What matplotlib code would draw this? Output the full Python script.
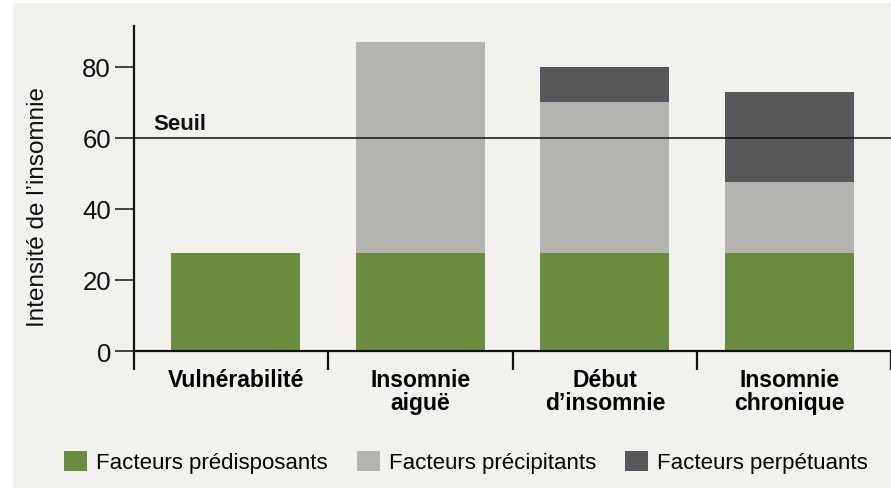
import matplotlib
matplotlib.use("Agg")
import matplotlib.pyplot as plt
from matplotlib.patches import Rectangle, Patch
from matplotlib.ticker import FixedLocator
from matplotlib.transforms import blended_transform_factory

# Stages of insomnia and the contribution of each factor type
stages = ["Vulnérabilité", "Insomnie\naiguë", "Début\nd’insomnie", "Insomnie\nchronique"]
predisposing = [27.5, 27.5, 27.5, 27.5]
precipitating = [0, 59.5, 42.5, 20]
perpetuating = [0, 0, 10, 25.5]
threshold = 60
series_names = ["Facteurs prédisposants", "Facteurs précipitants", "Facteurs perpétuants"]
yticks = [0, 20, 40, 60, 80]

GREEN = "#6b8c3f"
LIGHT = "#b3b4af"
DARK = "#58585b"
BG = "#f3f1ee"
INK = "#111111"

plt.rcParams["font.family"] = ["Liberation Sans", "DejaVu Sans"]

W, H = 891, 489
fig = plt.figure(figsize=(W / 100, H / 100), dpi=100)
fig.patch.set_facecolor("white")
fig.add_artist(Rectangle((13 / W, 0), 1 - 13 / W, (H - 4) / H,
                         transform=fig.transFigure, facecolor=BG,
                         edgecolor="none", zorder=-10))

ax = fig.add_axes([134 / W, (H - 352) / H, (W - 134) / W, (352 - 27) / H])
ax.set_facecolor("none")

x = list(range(len(stages)))
bottom2 = [a + b for a, b in zip(predisposing, precipitating)]
bw = 0.70
ax.bar(x, predisposing, width=bw, color=GREEN, zorder=2)
ax.bar(x, precipitating, width=bw, bottom=predisposing, color=LIGHT, zorder=2)
ax.bar(x, perpetuating, width=bw, bottom=bottom2, color=DARK, zorder=2)

# Threshold line and its label
ax.axhline(threshold, color=INK, lw=1.1, zorder=3)
ax.text((153 - 134) / (W - 134), threshold + 1.2, "Seuil",
        transform=blended_transform_factory(ax.transAxes, ax.transData),
        fontsize=16, fontweight="semibold", va="bottom", ha="left", color=INK)

ax.set_xlim(-0.55, 3.55)
ax.set_ylim(0, 91.5)

for s in ["top", "right"]:
    ax.spines[s].set_visible(False)
for s in ["left", "bottom"]:
    ax.spines[s].set_linewidth(1.6)
    ax.spines[s].set_color(INK)

ax.set_yticks(yticks)
ax.tick_params(axis="y", direction="out", length=13.5, width=1.1,
               labelsize=18.5, pad=3, colors=INK)
ax.set_xticks(x)
ax.set_xticklabels(stages, fontweight="bold", fontsize=16.5, linespacing=1.0)
ax.tick_params(axis="x", which="major", length=0, pad=12)
ax.xaxis.set_minor_locator(FixedLocator([-0.55, 0.5, 1.5, 2.5, 3.55]))
ax.tick_params(axis="x", which="minor", direction="out", length=13.5,
               width=1.6, color=INK)

fig.text(38 / W, (H - 207) / H, "Intensité de l’insomnie", rotation=90,
         ha="center", va="center", fontsize=17.5, color=INK)

handles = [Patch(facecolor=c, edgecolor="none") for c in (GREEN, LIGHT, DARK)]
fig.legend(handles, series_names, loc="center left",
           bbox_to_anchor=(55 / W, (H - 463) / H), ncol=3, frameon=False,
           fontsize=16, handlelength=1.05, handleheight=1.05,
           handletextpad=0.4, columnspacing=1.3, borderaxespad=0)

fig.savefig("out.png", dpi=100, facecolor=fig.get_facecolor())
